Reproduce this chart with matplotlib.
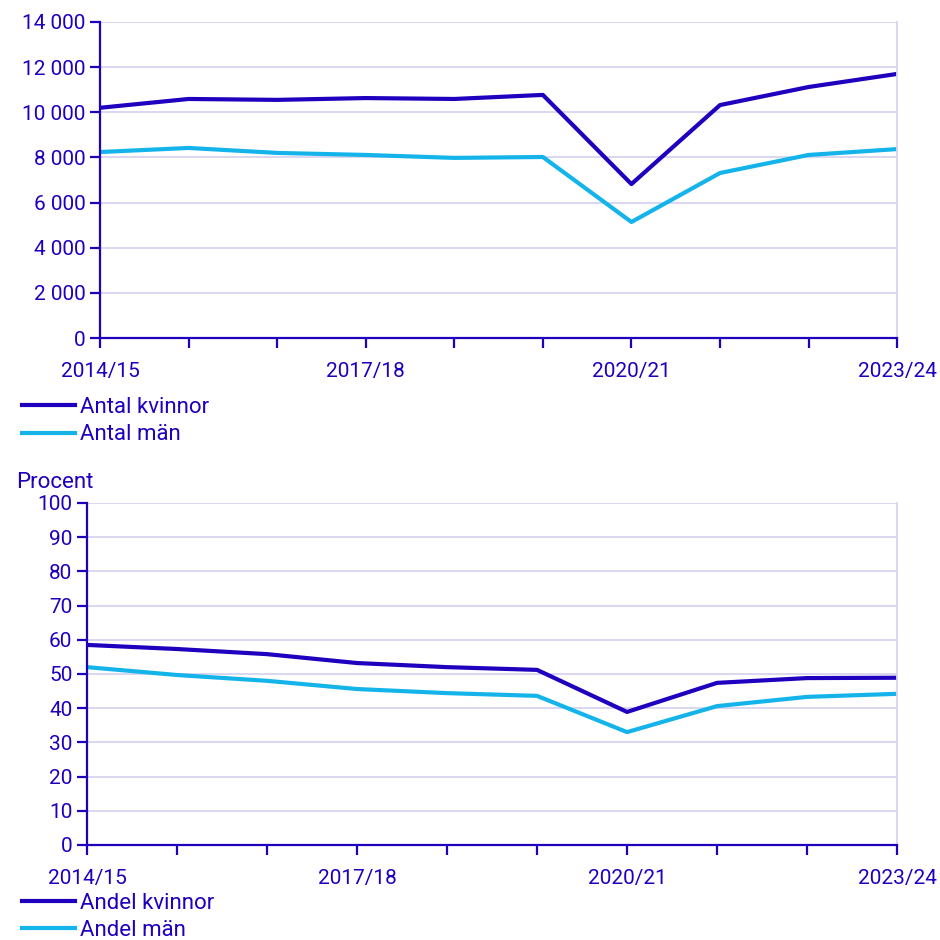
import matplotlib
matplotlib.use("Agg")
import matplotlib.pyplot as plt
from matplotlib.ticker import FuncFormatter

plt.rcParams["font.family"] = ["Roboto", "DejaVu Sans"]

DARK = "#1E00BE"
LIGHT = "#14B4EB"
GRID = "#D7D4F0"

years = ["2014/15", "2015/16", "2016/17", "2017/18", "2018/19",
         "2019/20", "2020/21", "2021/22", "2022/23", "2023/24"]
shown_labels = ["2014/15", "2017/18", "2020/21", "2023/24"]

antal_kvinnor = [10200, 10590, 10550, 10630, 10590, 10770, 6820, 10320, 11120, 11700]
antal_man = [8240, 8420, 8200, 8110, 7980, 8020, 5140, 7310, 8110, 8370]

andel_kvinnor = [58.5, 57.3, 55.8, 53.2, 52.0, 51.2, 38.9, 47.4, 48.8, 48.9]
andel_man = [52.0, 49.7, 48.0, 45.6, 44.4, 43.6, 33.0, 40.6, 43.3, 44.2]

FS = 15
LFS = 16


def style_axes(ax, ymax, ystep, fmt):
    x = list(range(len(years)))
    ax.set_xlim(0, len(years) - 1)
    ax.set_ylim(0, ymax)
    ax.set_yticks(range(0, ymax + 1, ystep))
    ax.yaxis.set_major_formatter(FuncFormatter(fmt))
    ax.set_xticks(x)
    ax.set_xticklabels([y if y in shown_labels else "" for y in years])
    ax.grid(axis="y", color=GRID, linewidth=1.3)
    ax.set_axisbelow(True)
    for side in ["left", "bottom"]:
        ax.spines[side].set_color(DARK)
        ax.spines[side].set_linewidth(1.6)
    ax.spines["top"].set_visible(False)
    ax.spines["right"].set_color(GRID)
    ax.spines["right"].set_linewidth(1.3)
    ax.tick_params(axis="both", colors=DARK, labelsize=FS, width=1.6, length=7)
    ax.tick_params(axis="x", pad=10)


def space_fmt(v, pos):
    return f"{int(v):,}".replace(",", " ")


def add_legend(ax, top):
    ax.legend(loc="upper left", bbox_to_anchor=(0.0234, top), bbox_transform=fig.transFigure,
              frameon=False, fontsize=LFS, labelcolor=DARK, handlelength=2.4,
              handletextpad=0.2, labelspacing=0.3, borderaxespad=0, borderpad=0)


fig = plt.figure(figsize=(9.4, 9.4), dpi=100)

ax1 = fig.add_axes([0.1064, 0.6404, 0.848, 0.3362])
ax1.plot(range(len(years)), antal_kvinnor, color=DARK, linewidth=3, label="Antal kvinnor")
ax1.plot(range(len(years)), antal_man, color=LIGHT, linewidth=3, label="Antal män")
style_axes(ax1, 14000, 2000, space_fmt)
add_legend(ax1, 0.578)

ax2 = fig.add_axes([0.0926, 0.1011, 0.8617, 0.3638])
ax2.plot(range(len(years)), andel_kvinnor, color=DARK, linewidth=3, label="Andel kvinnor")
ax2.plot(range(len(years)), andel_man, color=LIGHT, linewidth=3, label="Andel män")
style_axes(ax2, 100, 10, lambda v, p: f"{int(v)}")
add_legend(ax2, 0.0505)
fig.text(0.017, 0.476, "Procent", color=DARK, fontsize=LFS, ha="left", va="bottom")

fig.savefig("out.png", dpi=100)
